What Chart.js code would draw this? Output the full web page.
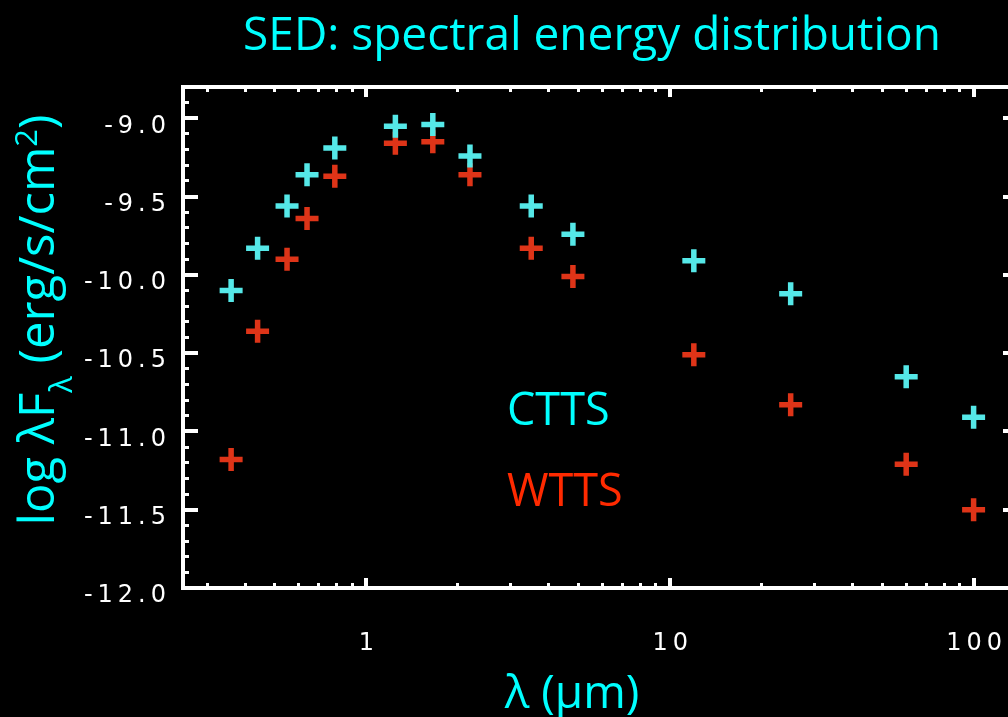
<!DOCTYPE html>
<html>
<head>
<meta charset="utf-8">
<title>SED: spectral energy distribution</title>
<script src="https://cdn.jsdelivr.net/npm/chart.js@4"></script>
<style>
  html, body { margin: 0; padding: 0; background: #000; overflow: hidden; }
  #wrap { position: relative; width: 1040px; height: 717px; background: #000; }
</style>
</head>
<body>
<div id="wrap"><canvas id="sed"></canvas></div>
<script>
// Photometric bands, wavelength in microns
const wavelengths = [0.36, 0.44, 0.55, 0.64, 0.79, 1.25, 1.66, 2.2, 3.5, 4.8, 12, 25, 60, 100];
// log(lambda F_lambda) in erg/s/cm^2
const cttsFlux = [-10.10, -9.83, -9.56, -9.36, -9.19, -9.05, -9.04, -9.24, -9.56, -9.74, -9.91, -10.12, -10.65, -10.91];
const wttsFlux = [-11.18, -10.36, -9.90, -9.64, -9.37, -9.16, -9.15, -9.36, -9.83, -10.01, -10.51, -10.83, -11.21, -11.50];
const seriesNames = ['CTTS', 'WTTS'];

// Axis ticks
const xTickValues = [0.3, 0.4, 0.5, 0.6, 0.7, 0.8, 0.9, 1, 2, 3, 4, 5, 6, 7, 8, 9,
                     10, 20, 30, 40, 50, 60, 70, 80, 90, 100];
const xLabelValues = [1, 10, 100];
const yMinorStep = 0.1;
const yLabelStep = 0.5;

const xMin = 0.25, xMax = 140;
const yMin = -12.0, yMax = -8.8;

const CYAN = '#00FFFF';
const RED = '#FF2A00';

const isMajorX = v => xLabelValues.some(m => Math.abs(m - v) < 1e-9);
const isMajorY = v => Math.abs(v / yLabelStep - Math.round(v / yLabelStep)) < 1e-6;

// Inward tick marks: long for labelled values, short (dashed down) otherwise
function frameGrid(isMajor, majorLen, minorDash) {
  const major = c => c.tick ? isMajor(c.tick.value) : false;
  return {
    display: true,
    drawOnChartArea: false,
    drawTicks: true,
    tickLength: -majorLen,
    color: '#fff',
    tickColor: '#fff',
    lineWidth: c => major(c) ? 4 : 3,
    tickWidth: c => major(c) ? 4 : 3,
    tickBorderDash: c => major(c) ? [] : minorDash
  };
}
const frameBorder = { display: true, color: '#fff', width: 4 };
const xTicksFromList = s => { s.ticks = xTickValues.map(v => ({ value: v })); };
// fixed box sizes so the plot frame sits at a set place on the page
const fixHeight = h => s => { s.height = h; s.paddingLeft = 0; s.paddingRight = 0; };
const fixWidth = w => s => { s.width = w; s.paddingTop = 0; s.paddingBottom = 0; };

const tickFont = { family: 'DejaVu Sans', size: 24 };

// Figure texts, plus wide letter spacing for the axis numbers
const sedText = {
  id: 'sedText',
  afterDatasetsDraw(chart) {
    chart.ctx.letterSpacing = '5px';
  },
  afterDraw(chart) {
    const ctx = chart.ctx;
    ctx.letterSpacing = '0px';
    ctx.save();

    // title
    ctx.fillStyle = CYAN;
    ctx.textAlign = 'center';
    ctx.textBaseline = 'alphabetic';
    ctx.font = '46px "Open Sans"';
    ctx.fillText('SED: spectral energy distribution', 592, 50);

    // x axis title
    ctx.font = '46px "Open Sans"';
    ctx.fillText('λ (μm)', 572, 708);

    // y axis title, rotated, with subscript and superscript
    const pieces = [
      { t: 'log λF', size: 49, dy: 0 },
      { t: 'λ', size: 31, dy: 18 },
      { t: ' (erg/s/cm', size: 49, dy: 0 },
      { t: '2', size: 31, dy: -17 },
      { t: ')', size: 49, dy: 0 }
    ];
    let total = 0;
    pieces.forEach(p => {
      ctx.font = p.size + 'px "Open Sans"';
      p.w = ctx.measureText(p.t).width;
      total += p.w;
    });
    ctx.save();
    ctx.translate(54, 320 + total / 2);
    ctx.rotate(-Math.PI / 2);
    ctx.textAlign = 'left';
    let px = 0;
    pieces.forEach(p => {
      ctx.font = p.size + 'px "Open Sans"';
      ctx.fillText(p.t, px, p.dy);
      px += p.w;
    });
    ctx.restore();

    // series labels
    ctx.textAlign = 'left';
    ctx.font = '45px "Open Sans"';
    ctx.fillStyle = CYAN;
    ctx.fillText(seriesNames[0], 507, 425);
    ctx.fillStyle = RED;
    ctx.fillText(seriesNames[1], 507, 506);

    ctx.restore();
  }
};

const toPoints = ys => wavelengths.map((x, i) => ({ x, y: ys[i] }));

new Chart(document.getElementById('sed'), {
  type: 'scatter',
  data: {
    datasets: [
      {
        label: seriesNames[0],
        data: toPoints(cttsFlux),
        pointStyle: 'cross',
        pointRadius: 11.5,
        pointBorderWidth: 5.5,
        pointBorderColor: '#55E8E8',
        pointBackgroundColor: '#55E8E8'
      },
      {
        label: seriesNames[1],
        data: toPoints(wttsFlux),
        pointStyle: 'cross',
        pointRadius: 11.5,
        pointBorderWidth: 5.5,
        pointBorderColor: '#DE3418',
        pointBackgroundColor: '#DE3418'
      }
    ]
  },
  options: {
    responsive: true,
    maintainAspectRatio: false,
    devicePixelRatio: 1,
    animation: false,
    layout: { autoPadding: false, padding: { top: 87, left: 0, right: 0, bottom: 0 } },
    plugins: {
      legend: { display: false },
      title: { display: false },
      tooltip: { enabled: false }
    },
    scales: {
      x: {
        type: 'logarithmic',
        position: 'bottom',
        min: xMin, max: xMax,
        afterBuildTicks: xTicksFromList,
        afterFit: fixHeight(129),
        border: frameBorder,
        grid: frameGrid(isMajorX, 10, [7, 100]),
        ticks: {
          z: 1,
          autoSkip: false,
          maxRotation: 0, minRotation: 0,
          padding: 51,
          labelOffset: 3,
          color: '#fff',
          font: tickFont,
          callback: v => isMajorX(v) ? String(v) : ''
        }
      },
      xTop: {
        type: 'logarithmic',
        position: 'top',
        min: xMin, max: xMax,
        afterBuildTicks: xTicksFromList,
        afterFit: fixHeight(0),
        border: frameBorder,
        grid: frameGrid(isMajorX, 10, [0, 5, 100, 0]),
        ticks: { display: false, autoSkip: false }
      },
      y: {
        type: 'linear',
        position: 'left',
        min: yMin, max: yMax,
        afterFit: fixWidth(183),
        border: frameBorder,
        grid: frameGrid(isMajorY, 15, [0, 9, 100, 0]),
        ticks: {
          z: 1,
          stepSize: yMinorStep,
          autoSkip: false,
          padding: 27,
          labelOffset: 8,
          color: '#fff',
          font: tickFont,
          callback: v => isMajorY(v) ? v.toFixed(1) : ''
        }
      },
      yRight: {
        type: 'linear',
        position: 'right',
        min: yMin, max: yMax,
        afterFit: fixWidth(22),
        border: frameBorder,
        grid: frameGrid(isMajorY, 15, [8, 100]),
        ticks: { display: false, stepSize: yMinorStep, autoSkip: false }
      }
    }
  },
  plugins: [sedText]
});
</script>
</body>
</html>
